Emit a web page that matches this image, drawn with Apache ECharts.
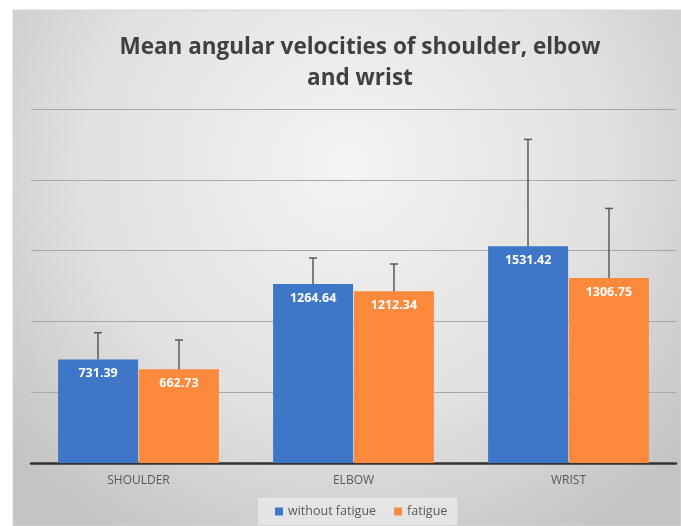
<!DOCTYPE html>
<html>
<head>
<meta charset="utf-8">
<script src="https://cdn.jsdelivr.net/npm/echarts@6/dist/echarts.min.js"></script>
<style>
  html, body { margin: 0; padding: 0; background: #fff; }
  #chart { width: 681px; height: 526px; }
</style>
</head>
<body>
<div id="chart"></div>
<script>
const categories = ['SHOULDER', 'ELBOW', 'WRIST']
const withoutFatigue = [731.39, 1264.64, 1531.42]
const fatigue = [662.73, 1212.34, 1306.75]
// error bar lengths (upper part only is visible)
const withoutFatigueErr = [189, 183, 754]
const fatigueErr = [206, 193, 491]

const BAR_W = 80

const errorSeries = (name, means, errs, offset) => ({
  type: 'custom',
  name: name + ' err',
  z: 5,
  silent: true,
  data: means.map((m, i) => [i, m, errs[i]]),
  renderItem: (params, api) => {
    const base = api.coord([api.value(0), api.value(1)])
    const top = api.coord([api.value(0), api.value(1) + api.value(2)])
    const x = base[0] + offset
    const style = { stroke: '#5a5a5a', lineWidth: 1.5 }
    return {
      type: 'group',
      children: [
        { type: 'line', shape: { x1: x, y1: base[1], x2: x, y2: top[1] }, style },
        { type: 'line', shape: { x1: x - 4, y1: top[1], x2: x + 4, y2: top[1] }, style }
      ]
    }
  },
  encode: { x: 0, y: 1 }
})

const chart = echarts.init(document.getElementById('chart'))

const labelOpt = {
  show: true,
  position: 'insideTop',
  distance: 8,
  color: '#ffffff',
  fontSize: 12.5,
  fontWeight: 'bold',
  fontFamily: 'Open Sans',
  formatter: p => p.value.toFixed(2)
}

chart.setOption({
  backgroundColor: '#ffffff',
  animation: false,
  graphic: [{
    type: 'rect',
    z: -100,
    shape: { x: 13, y: 10, width: 668, height: 516 },
    style: {
      fill: {
        type: 'radial', x: 0.5, y: 0.3, r: 0.85,
        colorStops: [
          { offset: 0, color: '#f4f4f4' },
          { offset: 0.6, color: '#e0e0e0' },
          { offset: 1, color: '#c4c4c4' }
        ]
      },
      stroke: '#d4d4d4',
      lineWidth: 1
    }
  }],
  title: {
    text: 'Mean angular velocities of shoulder, elbow\nand wrist',
    left: 355,
    textAlign: 'center',
    top: 27,
    textStyle: {
      fontFamily: 'Open Sans',
      fontSize: 22.5,
      fontWeight: 'bold',
      color: '#404040',
      lineHeight: 31
    }
  },
  legend: {
    bottom: 1,
    left: 258,
    itemWidth: 8,
    itemHeight: 8,
    itemGap: 18,
    icon: 'rect',
    padding: [7, 10, 7, 17],
    backgroundColor: 'rgba(232,232,232,0.85)',
    data: ['without fatigue', 'fatigue'],
    textStyle: { color: '#595959', fontSize: 12.5, fontFamily: 'Open Sans' }
  },
  grid: { left: 31, right: 5, top: 109, bottom: 63 },
  xAxis: {
    type: 'category',
    data: categories,
    axisLine: { lineStyle: { color: '#333333', width: 2.5 } },
    axisTick: { show: false },
    axisLabel: { color: '#595959', fontSize: 12, fontFamily: 'Open Sans', margin: 12 }
  },
  yAxis: {
    type: 'value',
    min: 0,
    max: 2500,
    interval: 500,
    axisLabel: { show: false },
    axisLine: { show: false },
    axisTick: { show: false },
    splitLine: { lineStyle: { color: '#a8a8a8', width: 1 } }
  },
  series: [
    {
      name: 'without fatigue',
      type: 'bar',
      barWidth: BAR_W,
      barGap: '1%',
      data: withoutFatigue,
      itemStyle: { color: '#3f77c8' },
      label: labelOpt
    },
    {
      name: 'fatigue',
      type: 'bar',
      barWidth: BAR_W,
      data: fatigue,
      itemStyle: { color: '#fd893d' },
      label: labelOpt
    },
    errorSeries('without fatigue', withoutFatigue, withoutFatigueErr, -40.5),
    errorSeries('fatigue', fatigue, fatigueErr, 40.5)
  ]
})
</script>
</body>
</html>
